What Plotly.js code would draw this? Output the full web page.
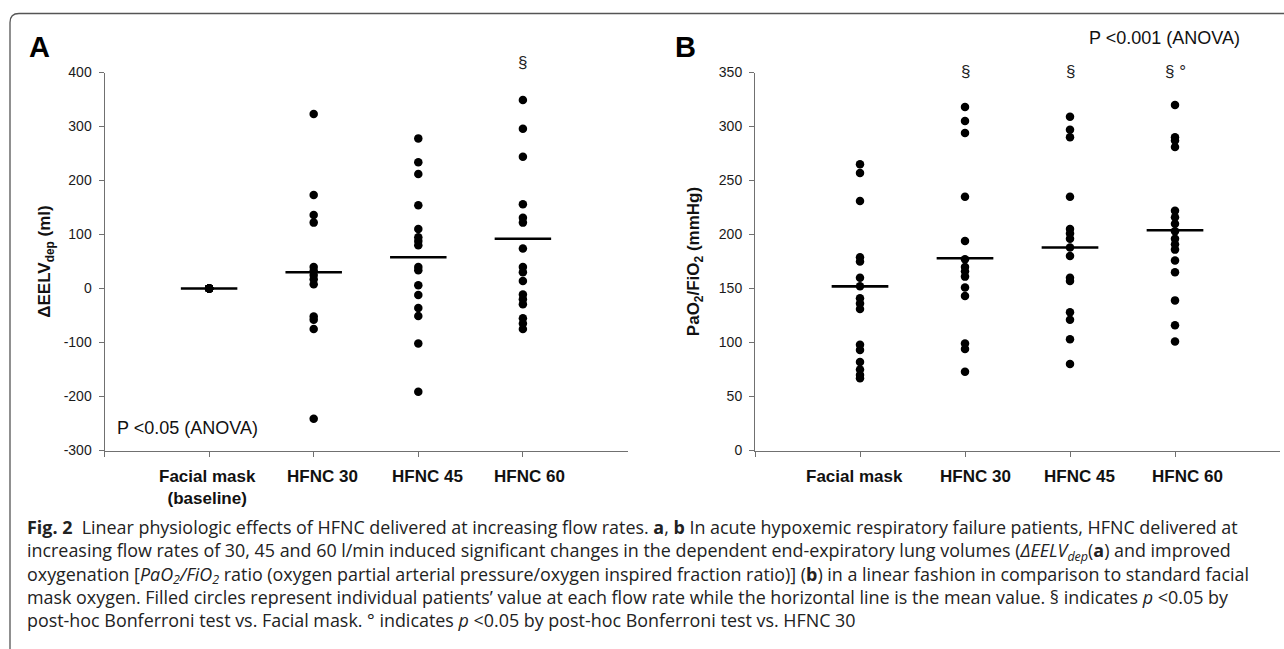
<!DOCTYPE html>
<html><head><meta charset="utf-8">
<script src="https://cdn.plot.ly/plotly-3.0.1.min.js"></script>
<style>html,body{margin:0;padding:0;background:#fff;}#chart{width:1284px;height:649px;}</style>
</head><body><div id="chart"></div>
<script>
// ---------- data ----------
const categoriesA = ["Facial mask<br>(baseline)", "HFNC 30", "HFNC 45", "HFNC 60"];
const categoriesB = ["Facial mask", "HFNC 30", "HFNC 45", "HFNC 60"];

const facialA = [0, 0, 0, 0, 0, 0, 0, 0, 0, 0, 0, 0, 0, 0, 0, 0];
const hfnc30A = [323, 173, 136, 122, 40, 33, 25, 17, 8, -52, -58, -75, -241];
const hfnc45A = [278, 234, 212, 154, 110, 95, 88, 80, 40, 34, 6, -12, -36, -51, -102, -191];
const hfnc60A = [349, 296, 244, 156, 131, 122, 74, 40, 30, 14, -11, -20, -29, -55, -65, -75];
const meansA = [0, 30, 58, 92];
const sigA = ["", "", "", "§"];

const facialB = [265, 257, 231, 179, 175, 160, 152, 141, 136, 131, 98, 93, 82, 75, 70, 67];
const hfnc30B = [318, 305, 294, 235, 194, 177, 170, 166, 161, 151, 143, 99, 94, 73];
const hfnc45B = [309, 297, 290, 235, 205, 201, 196, 188, 180, 160, 157, 128, 121, 103, 80];
const hfnc60B = [320, 290, 287, 281, 222, 216, 210, 203, 196, 191, 186, 176, 165, 139, 116, 101];
const meansB = [152, 178, 188, 204];
const sigB = ["", "§", "§", "§ °"];

const yTicksA = [-300, -200, -100, 0, 100, 200, 300, 400];
const yTicksB = [0, 50, 100, 150, 200, 250, 300, 350];

const captionLines = [
  "<b>Fig. 2</b>\u00A0\u00A0Linear physiologic effects of HFNC delivered at increasing flow rates. <b>a</b>, <b>b</b> In acute hypoxemic respiratory failure patients, HFNC delivered at",
  "increasing flow rates of 30, 45 and 60 l/min induced significant changes in the dependent end-expiratory lung volumes (<i>ΔEELV<sub>dep</sub></i>(<b>a</b>) and improved",
  "oxygenation [<i>PaO<sub>2</sub>/FiO<sub>2</sub></i> ratio (oxygen partial arterial pressure/oxygen inspired fraction ratio)] (<b>b</b>) in a linear fashion in comparison to standard facial",
  "mask oxygen. Filled circles represent individual patients’ value at each flow rate while the horizontal line is the mean value. § indicates <i>p</i> &lt;0.05 by",
  "post-hoc Bonferroni test vs. Facial mask. ° indicates <i>p</i> &lt;0.05 by post-hoc Bonferroni test vs. HFNC 30"
];

// ---------- layout constants ----------
const W = 1284, H = 649;
const px = v => v / W;
const py = v => 1 - v / H;
const AX = "#707070";
const FONT = "Liberation Sans, Arial, sans-serif";
const halfLine = 0.27;
const labelShiftA = [-2, 9, 9, 7];
const labelShiftB = [-6, 10, 9, 12];

function dotTrace(groups, xa, ya) {
  const x = [], y = [];
  groups.forEach((g, i) => g.forEach(v => { x.push(i + 1); y.push(v); }));
  return {type: "scatter", mode: "markers", x, y, xaxis: xa, yaxis: ya,
    marker: {color: "#000", size: 8.5}, hoverinfo: "y", showlegend: false};
}
function meanTrace(means, xa, ya) {
  const x = [], y = [];
  means.forEach((m, i) => { x.push(i + 1 - halfLine, i + 1 + halfLine, null); y.push(m, m, null); });
  return {type: "scatter", mode: "lines", x, y, xaxis: xa, yaxis: ya,
    line: {color: "#000", width: 2.6}, hoverinfo: "skip", showlegend: false};
}

const data = [
  dotTrace([facialA, hfnc30A, hfnc45A, hfnc60A], "x", "y"),
  meanTrace(meansA, "x", "y"),
  dotTrace([facialB, hfnc30B, hfnc45B, hfnc60B], "x2", "y2"),
  meanTrace(meansB, "x2", "y2")
];

const yDom = [py(450.5), py(72.5)];
const plotH = 450.5 - 72.5;
function xAxis(dom) {
  return {domain: dom, range: [0, 5], tickvals: [0, 1, 2, 3, 4], showticklabels: false,
    ticks: "outside", ticklen: 5, tickcolor: AX, tickwidth: 1, showline: true, linecolor: AX,
    linewidth: 1, showgrid: false, zeroline: false, fixedrange: true};
}
function yAxis(range, ticks, anchor, title, standoff) {
  return {domain: yDom, range, tickvals: ticks, ticktext: ticks.map(String), anchor, ticks: "outside", ticklen: 5,
    tickcolor: AX, tickwidth: 1, showline: true, linecolor: AX, linewidth: 1,
    showgrid: false, zeroline: false, fixedrange: true, ticklabelstandoff: 4,
    tickfont: {family: FONT, size: 14, color: "#1a1a1a"},
    title: {text: title, font: {family: FONT, size: 17, color: "#111"}, standoff}};
}

const annotations = [];
// panel letters
annotations.push({xref: "paper", yref: "paper", x: px(39), y: py(47), text: "<b>A</b>", showarrow: false,
  font: {family: FONT, size: 29, color: "#000"}, xanchor: "center", yanchor: "middle"});
annotations.push({xref: "paper", yref: "paper", x: px(685), y: py(47), text: "<b>B</b>", showarrow: false,
  font: {family: FONT, size: 29, color: "#000"}, xanchor: "center", yanchor: "middle"});
// ANOVA notes
annotations.push({xref: "paper", yref: "paper", x: px(115), y: py(428), text: "P &lt;0.05 (ANOVA)", showarrow: false,
  font: {family: FONT, size: 18, color: "#111"}, xanchor: "left", yanchor: "middle"});
annotations.push({xref: "paper", yref: "paper", x: px(1087), y: py(38), text: "P &lt;0.001 (ANOVA)", showarrow: false,
  font: {family: FONT, size: 18, color: "#111"}, xanchor: "left", yanchor: "middle"});
// category labels
function catLabels(cats, xa, ya, shifts) {
  cats.forEach((c, i) => annotations.push({xref: xa, yref: ya + " domain", x: i + 1, y: 0, text: "<b>" + c.replace("<br>", "</b><br><b>") + "</b>",
    showarrow: false, xanchor: "center", yanchor: "top", yshift: -14, xshift: shifts[i],
    font: {family: FONT, size: 17, color: "#111"}}));
}
catLabels(categoriesA, "x", "y", labelShiftA);
catLabels(categoriesB, "x2", "y2", labelShiftB);
// significance marks (placed just above the plot top)
sigA.forEach((s, i) => { if (s) annotations.push({xref: "x", yref: "y domain", x: i + 1, y: 1 + 9.5 / plotH, text: s, showarrow: false,
  font: {family: FONT, size: 17, color: "#222"}, xanchor: "center", yanchor: "middle"}); });
sigB.forEach((s, i) => { if (s) annotations.push({xref: "x2", yref: "y2 domain", x: i + 1, y: 1 + 0.5 / plotH, text: s, showarrow: false,
  font: {family: FONT, size: 17, color: "#222"}, xanchor: "center", yanchor: "middle"}); });
// caption (one multi-line block)
annotations.push({xref: "paper", yref: "paper", x: px(25), y: py(573), text: captionLines.join("<br>"),
  showarrow: false, xanchor: "left", yanchor: "middle", align: "left",
  font: {family: "Open Sans, sans-serif", size: 17.9, color: "#222"}});

// frame
const fx = px(10), ft = py(13.5), rx = 9 / W, ry = 9 / H;
const shapes = [{type: "path", xref: "paper", yref: "paper",
  path: `M ${fx},-0.02 L ${fx},${ft - ry} Q ${fx},${ft} ${fx + rx},${ft} L 1.02,${ft}`,
  line: {color: "#555", width: 1.3}}];

const layout = {
  width: W, height: H, margin: {l: 0, r: 0, t: 0, b: 0}, paper_bgcolor: "#fff", plot_bgcolor: "rgba(0,0,0,0)",
  showlegend: false,
  xaxis: Object.assign(xAxis([px(104.5), px(627.5)]), {anchor: "y"}),
  yaxis: yAxis([-300, 400], yTicksA, "x", "<b>ΔEELV<sub>dep</sub> (ml)</b>", 8),
  xaxis2: Object.assign(xAxis([px(755), px(1280)]), {anchor: "y2"}),
  yaxis2: yAxis([0, 350], yTicksB, "x2", "<b>PaO<sub>2</sub>/FiO<sub>2</sub> (mmHg)</b>", 14),
  annotations, shapes
};

Plotly.newPlot("chart", data, layout, {displayModeBar: false, staticPlot: true});
</script></body></html>
